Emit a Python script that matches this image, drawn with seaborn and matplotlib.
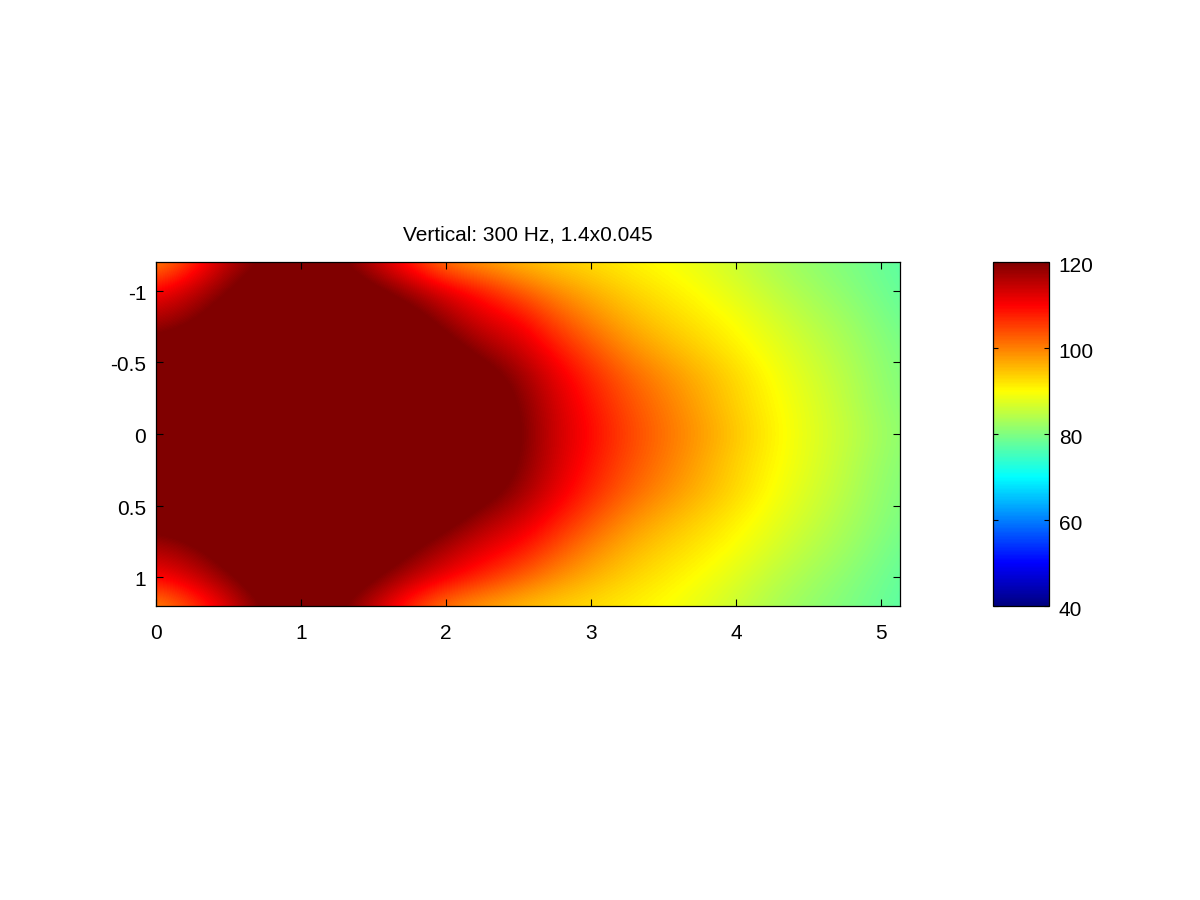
import numpy as np
import matplotlib
matplotlib.use("Agg")
import matplotlib.pyplot as plt
from matplotlib.colors import LinearSegmentedColormap
from matplotlib.transforms import ScaledTranslation
import seaborn as sns

title = "Vertical: 300 Hz, 1.4x0.045"
x_nodes = [0, .25, .5, .75, 1, 1.25, 1.5, 1.75, 2, 2.25, 2.5, 2.75, 3, 3.25, 3.5, 3.75, 4, 4.25, 4.5, 4.75, 5, 5.25]
y_nodes = [-1.2, -1.0, -.8, -.6, -.4, -.2, 0, .2, .4, .6, .8, 1.0, 1.2]
x_ticks = [0, 1, 2, 3, 4, 5]
y_ticks = [-1, -0.5, 0, 0.5, 1]
y_labels = ["-1", "-0.5", "0", "0.5", "1"]
cbar_ticks = [40, 60, 80, 100, 120]
x_max = 5.13
cmap_stops = [0, .125, .375, .625, .875, 1]
cmap_colors = ["#000080", "#0000ff", "#00ffff", "#ffff00", "#ff0000", "#800000"]

row_m12 = [98, 106, 115, 120.5, 123, 121, 114, 107, 99.5, 97, 95, 93.5, 92.4, 90.8, 89.5, 88, 85.8, 83.5, 81.5, 80, 78.3, 76.5]
row_m10 = [110, 114.5, 120, 125, 127, 126, 122, 117, 112, 108, 103, 99, 96, 93.5, 91.5, 89.7, 87.5, 85, 83, 81, 79, 77]
row_m08 = [116, 119, 124.5, 128, 130, 129, 127, 123.5, 117.5, 112.5, 110, 104, 99.5, 96, 93.5, 91.5, 89.5, 87, 84.5, 82.5, 80, 78]
row_m06 = [122.5, 125.5, 129, 131, 133, 132, 130, 127, 123, 117.5, 114, 108.5, 103.5, 99, 96, 93.5, 91, 88.5, 86, 83.5, 81, 79]
row_m04 = [130, 131, 132, 134, 135, 134, 133, 130, 127, 123.5, 118, 112, 107, 102.5, 99, 96, 93, 89.8, 87, 84.5, 81.5, 79.5]
row_m02 = [133, 134, 135, 136, 137, 136, 135, 133, 130, 125.5, 120, 113.5, 108.5, 104, 100.5, 97, 93.5, 90.5, 87.8, 85, 82, 80]
row_p00 = [134, 135, 136, 137, 138, 137, 136, 134, 131, 127, 120.7, 114, 109.5, 105, 101.3, 98, 94.5, 91, 88, 85.5, 82.7, 80.5]
row_p02 = [133, 134, 135, 136, 137, 136, 135, 133, 130, 125.5, 120, 113.5, 108.5, 104, 100.5, 97, 93.5, 90.5, 87.8, 85, 82, 80]
row_p04 = [130, 131, 132, 134, 135, 134, 133, 130, 127, 123, 118, 112, 107, 102.5, 99, 96, 93, 89.8, 87, 84.5, 81.5, 79.5]
row_p06 = [122.5, 125.5, 129, 131, 133, 132, 130, 126.5, 122.5, 117, 113.5, 108.5, 103.5, 99, 96, 93.5, 91, 88.5, 86, 83.5, 81, 79]
row_p08 = [116, 118.5, 124, 128, 130, 129, 126, 121, 116, 112, 109, 104, 99.5, 96, 93.5, 91.5, 89.5, 87, 84.5, 82.5, 80, 78]
row_p10 = [110, 113.5, 119, 125, 127, 126, 121, 115.5, 111, 107, 103, 99, 96, 93.5, 91.5, 89.7, 87.5, 85, 83, 81, 79, 77]
row_p12 = [98, 104.5, 112, 121, 123, 121, 114, 106, 99.5, 97, 95, 93.5, 92.4, 91, 89.7, 88, 85.8, 83.5, 81.5, 80, 78.3, 76.5]

Z = np.array([row_m12, row_m10, row_m08, row_m06, row_m04, row_m02, row_p00,
              row_p02, row_p04, row_p06, row_p08, row_p10, row_p12])

sns.set_theme(style="white", rc={"xtick.bottom": True, "ytick.left": True})
plt.rcParams["font.family"] = ["Liberation Sans", "DejaVu Sans"]

jet = LinearSegmentedColormap.from_list("octave_jet", list(zip(cmap_stops, cmap_colors)), N=256)

W, H = 1200, 900
fig = plt.figure(figsize=(12, 9), dpi=100, facecolor="white")
ax = fig.add_axes([156 / W, 1 - 606 / H, 744 / W, 344 / H])
cax = fig.add_axes([993 / W, 1 - 606 / H, 56 / W, 344 / H])

sns.heatmap(Z, ax=ax, cbar_ax=cax, cmap=jet, vmin=40, vmax=120,
            xticklabels=False, yticklabels=False,
            cbar_kws={"ticks": cbar_ticks})
# smooth the cells of the same grid, as the reference does
ax.imshow(Z, cmap=jet, vmin=40, vmax=120, interpolation="bicubic",
          extent=(0, Z.shape[1], Z.shape[0], 0), aspect="auto", zorder=1.5)


def xpos(v):
    return 0.5 + np.asarray(v) / (x_nodes[1] - x_nodes[0])


def ypos(v):
    return 0.5 + (np.asarray(v) - y_nodes[0]) / (y_nodes[1] - y_nodes[0])


ax.set_axisbelow(False)
cax.set_axisbelow(False)
ax.set_xlim(xpos(0), xpos(x_max))
ax.set_ylim(ypos(y_nodes[-1]), ypos(y_nodes[0]))
ax.set_xticks(xpos(x_ticks))
ax.set_xticklabels([str(t) for t in x_ticks])
ax.set_yticks(ypos(y_ticks))
ax.set_yticklabels(y_labels, rotation=0)
ax.tick_params(axis="both", direction="in", length=5, width=0.8, color="black",
               top=True, right=True, bottom=True, left=True,
               labelsize=15, labelcolor="black", pad=7)
ax.tick_params(axis="x", pad=13)
for s in ax.spines.values():
    s.set_visible(True)
    s.set_color("black")
    s.set_linewidth(0.9)
y_shift = ScaledTranslation(0, -1.5 / 100, fig.dpi_scale_trans)
for lab in ax.get_yticklabels():
    lab.set_transform(lab.get_transform() + y_shift)

cax.tick_params(axis="y", direction="in", length=3.5, width=0.8, color="black",
                left=True, right=True, labelsize=15, labelcolor="black", pad=7)
cb = ax.collections[0].colorbar
cb.outline.set_visible(True)
cb.outline.set_edgecolor("black")
cb.outline.set_linewidth(0.9)
offset = ScaledTranslation(0, -3 / 100, fig.dpi_scale_trans)
for lab in cax.get_yticklabels():
    lab.set_transform(lab.get_transform() + offset)

fig.text(528 / W, 1 - 235 / H, title, ha="center", va="center", fontsize=15, color="black")

fig.savefig("out.png", dpi=100, facecolor="white")
